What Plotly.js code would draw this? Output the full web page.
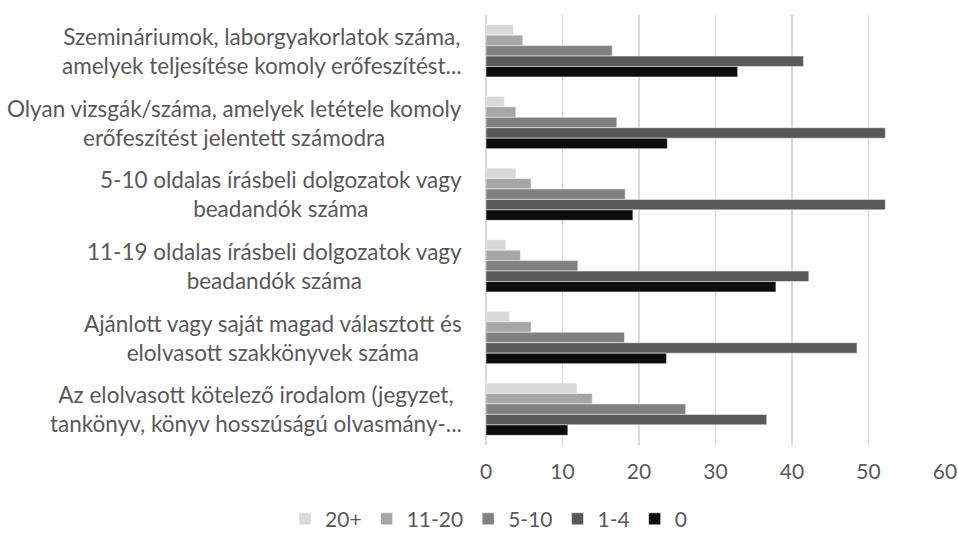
<!DOCTYPE html>
<html>
<head>
<meta charset="utf-8">
<script src="https://cdn.plot.ly/plotly-3.0.1.min.js"></script>
<style>html,body{margin:0;padding:0;background:#fff;}#chart{width:958px;height:538px;}</style>
</head>
<body>
<div id="chart"></div>
<script>
var categories = [
  "Szemináriumok, laborgyakorlatok száma,<br>amelyek teljesítése komoly erőfeszítést...",
  "Olyan vizsgák/száma, amelyek letétele komoly<br>erőfeszítést jelentett számodra",
  "5-10 oldalas írásbeli dolgozatok vagy<br>beadandók száma",
  "11-19 oldalas írásbeli dolgozatok vagy<br>beadandók száma",
  "Ajánlott vagy saját magad választott és<br>elolvasott szakkönyvek száma",
  "Az elolvasott kötelező irodalom (jegyzet,<br>tankönyv, könyv hosszúságú olvasmány-..."
];
var seriesNames = ["20+", "11-20", "5-10", "1-4", "0"];
var v20plus = [3.6, 2.4, 3.9, 2.6, 3.1, 11.9];
var v11to20 = [4.8, 3.9, 5.9, 4.5, 5.9, 13.9];
var v5to10  = [16.5, 17.1, 18.2, 12.0, 18.1, 26.1];
var v1to4   = [41.5, 52.2, 52.2, 42.2, 48.5, 36.7];
var v0      = [32.9, 23.7, 19.2, 37.9, 23.6, 10.7];
var seriesValues = [v20plus, v11to20, v5to10, v1to4, v0];
var seriesColors = ["#d9d9d9", "#a6a6a6", "#808080", "#595959", "#0d0d0d"];
var xTicks = [0, 10, 20, 30, 40, 50, 60];

var FONT = "Lato, 'Liberation Sans', sans-serif";
var TXT = "#595959";

var data = seriesNames.map(function(name, i){
  return {
    type: "bar",
    orientation: "h",
    name: name,
    x: seriesValues[i],
    y: categories,
    marker: {color: seriesColors[i], line: {color: "rgba(255,255,255,0.5)", width: 1}},
    hoverinfo: "x+name"
  };
});

var annotations = categories.map(function(c){
  return {
    xref: "paper", yref: "y", x: 0, y: c, xanchor: "right", yanchor: "middle",
    xshift: -22, text: c, showarrow: false, align: "center",
    font: {family: FONT, size: 22.5, color: TXT}
  };
});

var layout = {
  width: 958, height: 538,
  margin: {l: 485.5, r: 13, t: 14.6, b: 93, pad: 0},
  paper_bgcolor: "#fff", plot_bgcolor: "#fff",
  barmode: "group", bargap: 0.27, bargroupgap: 0,
  font: {family: FONT, size: 21, color: TXT},
  xaxis: {
    range: [0, 60], tickvals: xTicks, ticktext: xTicks.map(String),
    showgrid: true, gridcolor: "#d9d9d9", gridwidth: 1.3,
    zeroline: true, zerolinecolor: "#d9d9d9", zerolinewidth: 1.3,
    showline: false, ticks: "", ticklabelstandoff: 12,
    tickfont: {family: FONT, size: 21, color: TXT}, fixedrange: true
  },
  yaxis: {
    type: "category", autorange: "reversed", showticklabels: false,
    showgrid: false, zeroline: false, showline: false, ticks: "", fixedrange: true
  },
  showlegend: true,
  legend: {
    orientation: "h", xref: "container", x: 0.51, xanchor: "center",
    yref: "container", y: 0.035, yanchor: "middle", traceorder: "normal",
    font: {family: FONT, size: 21, color: TXT}, itemwidth: 30
  },
  annotations: annotations
};

Plotly.newPlot("chart", data, layout, {staticPlot: true, displayModeBar: false});
</script>
</body>
</html>
